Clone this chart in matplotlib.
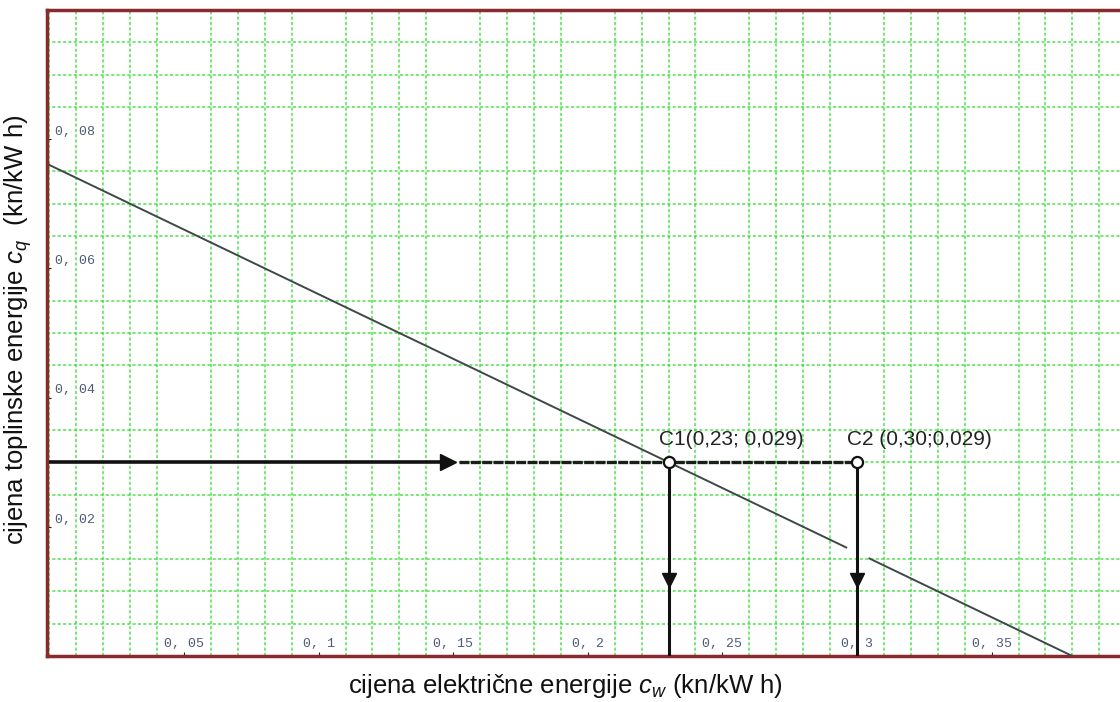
import numpy as np
import matplotlib.pyplot as plt
from matplotlib.ticker import MultipleLocator, FixedLocator

# characteristic line (break around c_w = 0.3 where the arrow passes)
line_cw = [0.0, 0.296, np.nan, 0.3046, 0.38]
line_cq = [0.076, 0.0168, np.nan, 0.0151, 0.0]

# operating points
point_names = ['C1(0,23; 0,029)', 'C2 (0,30;0,029)']
point_cw = [0.23, 0.30]
point_cq = [0.03, 0.03]

# arrow head positions
arrow_h_cw = 0.148
arrow_v_cq = 0.0118

x_ticks = [0.05, 0.1, 0.15, 0.2, 0.25, 0.3, 0.35]
x_tick_labels = ['0, 05', '0, 1', '0, 15', '0, 2', '0, 25', '0, 3', '0, 35']
y_ticks = [0.02, 0.04, 0.06, 0.08]
y_tick_labels = ['0, 02', '0, 04', '0, 06', '0, 08']

plt.rcParams['font.family'] = ['Liberation Sans', 'DejaVu Sans']
plt.rcParams['mathtext.fontset'] = 'custom'
plt.rcParams['mathtext.rm'] = 'Liberation Sans'
plt.rcParams['mathtext.it'] = 'Liberation Sans:italic'

fig = plt.figure(figsize=(11.2, 7.02), dpi=100)
ax = fig.add_axes([0.042, 0.0655, 0.958, 0.9203])
ax.set_xlim(-0.0009, 0.3977)
ax.set_ylim(0, 0.1)

# green dotted grid
ax.xaxis.set_minor_locator(MultipleLocator(0.01))
ax.yaxis.set_minor_locator(MultipleLocator(0.005))
ax.grid(True, which='minor', color='#33dd33', linestyle=(0, (2, 1.5)),
        linewidth=1.1, alpha=0.85, zorder=0)
ax.tick_params(which='minor', length=0)

ax.xaxis.set_major_locator(FixedLocator(x_ticks))
ax.yaxis.set_major_locator(FixedLocator(y_ticks))
ax.set_xticklabels([])
ax.set_yticklabels([])
ax.tick_params(which='major', direction='in', length=3, color='#222222')

# tick labels drawn inside the axes
mono = dict(family='Liberation Mono', fontsize=9.5, color='#4d5a78')
for xv, lab in zip(x_ticks, x_tick_labels):
    ax.text(xv, 0.0019, lab, ha='center', va='center', **mono)
for yv, lab in zip(y_ticks, y_tick_labels):
    ax.text(0.0021, yv + 0.0011, lab, ha='left', va='center', **mono)

for side in ['left', 'top', 'bottom']:
    ax.spines[side].set_color('#8b2a2e')
    ax.spines[side].set_linewidth(2.5)
ax.spines['right'].set_visible(False)

# characteristic line
ax.plot(line_cw, line_cq, color='#3d4848', linewidth=1.4, zorder=3)

# horizontal arrow line
ax.plot([0.0, arrow_h_cw], [point_cq[0], point_cq[0]], color='#111111',
        linewidth=2.6, solid_capstyle='butt', zorder=4)
ax.plot([arrow_h_cw + 0.004, point_cw[1]], [point_cq[0], point_cq[1]],
        color='#1a1f1a', linewidth=2.4, linestyle=(0, (3, 0.4)), zorder=4)
ax.plot([arrow_h_cw], [point_cq[0]], marker='>', markersize=11,
        color='#111111', zorder=5)

# vertical lines down to the c_w axis
for xv, yv in zip(point_cw, point_cq):
    ax.plot([xv, xv], [0, yv], color='#111111', linewidth=2.2, zorder=4)
    ax.plot([xv], [arrow_v_cq], marker='v', markersize=10,
            color='#111111', zorder=5)

ax.plot(point_cw, point_cq, linestyle='none', marker='o', markersize=8,
        markerfacecolor='white', markeredgecolor='#111111',
        markeredgewidth=1.6, zorder=6)

for name, xv, yv in zip(point_names, point_cw, point_cq):
    ax.text(xv - 0.0036, yv + 0.0027, name, ha='left', va='baseline',
            fontsize=15, color='#222222', zorder=6)

fig.text(0.505, 0.023, 'cijena električne energije $c_w$ (kn/kW h)',
         ha='center', va='center', fontsize=18.5, color='#111111')
fig.text(0.016, 0.53, 'cijena toplinske energije $c_q$  (kn/kW h)',
         ha='center', va='center', rotation=90, fontsize=18.5,
         color='#111111')

fig.savefig('out.png', dpi=100)
